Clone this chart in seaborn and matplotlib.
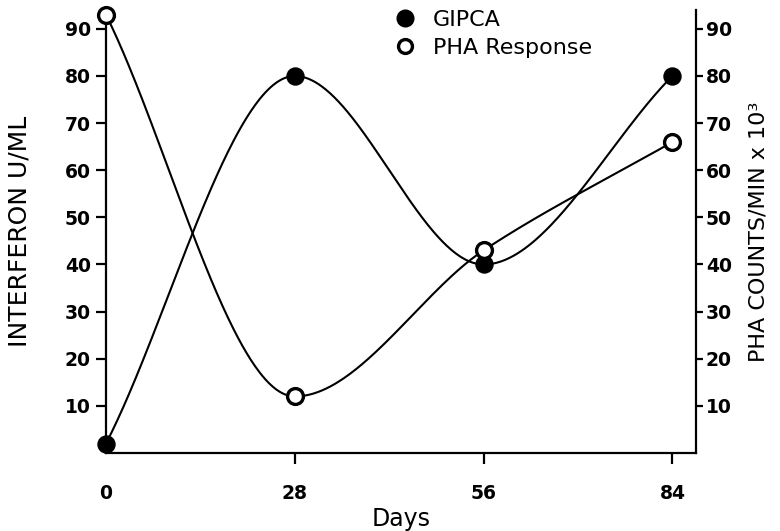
import numpy as np
import pandas as pd
import matplotlib
matplotlib.use("Agg")
import matplotlib.pyplot as plt
from matplotlib.lines import Line2D
import seaborn as sns

# Observations
days = [0, 28, 56, 84]
gipca = [2, 80, 40, 80]          # interferon, U/ml
pha = [93, 12, 43, 66]           # PHA counts/min x 10^3
day_ticks = [0, 28, 56, 84]
value_ticks = [10, 20, 30, 40, 50, 60, 70, 80, 90]


def smooth_curve(x, y, num=400):
    """Shape-preserving cubic Hermite curve through the observations."""
    x = np.asarray(x, float)
    y = np.asarray(y, float)
    h = np.diff(x)
    delta = np.diff(y) / h
    d = np.zeros_like(y)
    for k in range(1, len(x) - 1):
        if delta[k - 1] * delta[k] > 0:
            w1 = 2 * h[k] + h[k - 1]
            w2 = h[k] + 2 * h[k - 1]
            d[k] = (w1 + w2) / (w1 / delta[k - 1] + w2 / delta[k])
    # end tangents follow the chord of the first / last segment
    d[0] = delta[0]
    d[-1] = delta[-1]

    xs = np.linspace(x[0], x[-1], num)
    i = np.clip(np.searchsorted(x, xs, side="right") - 1, 0, len(x) - 2)
    t = (xs - x[i]) / h[i]
    h00 = 2 * t**3 - 3 * t**2 + 1
    h10 = t**3 - 2 * t**2 + t
    h01 = -2 * t**3 + 3 * t**2
    h11 = t**3 - t**2
    ys = h00 * y[i] + h10 * h[i] * d[i] + h01 * y[i + 1] + h11 * h[i] * d[i + 1]
    return xs, ys


sns.set_style("ticks")
plt.rcParams["font.family"] = ["DejaVu Sans"]
plt.rcParams["text.color"] = "black"
plt.rcParams["axes.labelcolor"] = "black"

fig = plt.figure(figsize=(7.8, 5.31), dpi=100)
ax = fig.add_axes([106 / 780, 1 - 453 / 531, 590 / 780, 443 / 531])

gx, gy = smooth_curve(days, gipca)
px, py = smooth_curve(days, pha)
curves = pd.concat([
    pd.DataFrame({"day": gx, "value": gy, "series": "GIPCA"}),
    pd.DataFrame({"day": px, "value": py, "series": "PHA Response"}),
])
sns.lineplot(data=curves, x="day", y="value", units="series", estimator=None,
             color="black", lw=1.5, ax=ax, legend=False, sort=False)

points = pd.DataFrame({"day": days, "GIPCA": gipca, "PHA": pha})
sns.scatterplot(data=points, x="day", y="GIPCA", ax=ax, s=150, color="black",
                edgecolor="black", linewidth=1, zorder=4, clip_on=False, legend=False)
sns.scatterplot(data=points, x="day", y="PHA", ax=ax, s=130, color="white",
                edgecolor="black", linewidth=2.4, zorder=4, clip_on=False, legend=False)

ax.set_xlim(0, 87.5)
ax.set_ylim(0, 94)
ax.set_xticks(day_ticks)
ax.set_xticklabels([str(v) for v in day_ticks])
ax.set_yticks(value_ticks)
ax.set_yticklabels([str(v) for v in value_ticks])
ax.xaxis.get_major_ticks()[0].tick1line.set_visible(False)

for side in ("top", "right"):
    ax.spines[side].set_visible(False)
for side in ("left", "bottom"):
    ax.spines[side].set_linewidth(1.6)
    ax.spines[side].set_color("black")

ax.tick_params(axis="y", direction="out", length=7, width=1.6, pad=4,
               labelsize=13.5, colors="black")
ax.tick_params(axis="x", direction="out", length=8, width=1.6, pad=14,
               labelsize=13.5, colors="black")
for lab in ax.get_xticklabels() + ax.get_yticklabels():
    lab.set_fontweight("bold")

ax.set_xlabel("Days", fontsize=17, labelpad=3)
ax.set_ylabel("INTERFERON U/ML", fontsize=18, labelpad=24)

ax2 = ax.twinx()
ax2.set_ylim(ax.get_ylim())
ax2.set_yticks(value_ticks)
ax2.set_yticklabels([str(v) for v in value_ticks])
for side in ("top", "left", "bottom"):
    ax2.spines[side].set_visible(False)
ax2.spines["right"].set_linewidth(1.6)
ax2.spines["right"].set_color("black")
ax2.tick_params(axis="y", direction="out", length=5, width=1.6, pad=2,
                labelsize=13.5, colors="black")
for lab in ax2.get_yticklabels():
    lab.set_fontweight("bold")
ax2.set_ylabel("PHA COUNTS/MIN x 10\u00b3", fontsize=16, labelpad=12)
ax2.grid(False)
ax.grid(False)

handles = [
    Line2D([], [], marker="o", ls="none", markersize=12, markerfacecolor="black",
           markeredgecolor="black"),
    Line2D([], [], marker="o", ls="none", markersize=10, markerfacecolor="white",
           markeredgecolor="black", markeredgewidth=2.4),
]
fig.legend(handles, ["GIPCA", "PHA Response"], loc="upper left",
           bbox_to_anchor=(374 / 780, 1 - 1 / 531), frameon=False,
           fontsize=16, handletextpad=0.25, labelspacing=0.35, borderaxespad=0)

fig.savefig("out.png", dpi=100)
